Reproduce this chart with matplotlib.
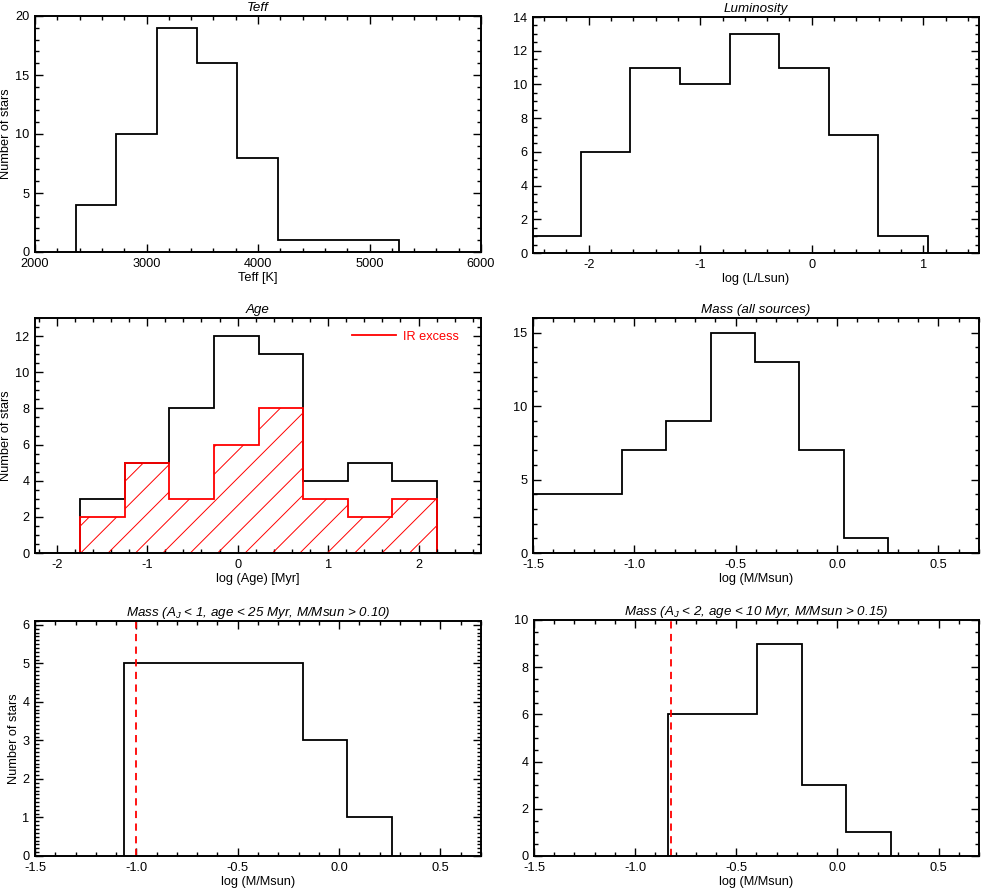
import matplotlib.pyplot as plt
from matplotlib.ticker import MultipleLocator, FormatStrFormatter
from matplotlib.collections import LineCollection

plt.rcParams['font.family'] = ['Liberation Sans', 'DejaVu Sans']
plt.rcParams['font.size'] = 9.2
plt.rcParams['axes.unicode_minus'] = False
plt.rcParams['mathtext.fontset'] = 'custom'
plt.rcParams['mathtext.rm'] = 'Liberation Sans'
plt.rcParams['mathtext.it'] = 'Liberation Sans:italic'

# --- data ---
teff_edges = [2368, 2730, 3092, 3454, 3816, 4178, 4540, 4902, 5264]
teff_counts = [4, 10, 19, 16, 8, 1, 1, 1]

lum_edges = [-2.517, -2.072, -1.627, -1.182, -0.737, -0.292, 0.153, 0.598, 1.043]
lum_counts = [1, 6, 11, 10, 13, 11, 7, 1]

age_edges = [-1.742, -1.249, -0.756, -0.262, 0.231, 0.724, 1.217, 1.710, 2.203]
age_counts = [3, 5, 8, 12, 11, 4, 5, 4]
age_ir_counts = [2, 5, 3, 6, 8, 3, 2, 3]

mass_edges = [-1.500, -1.281, -1.062, -0.843, -0.624, -0.405, -0.186, 0.033, 0.252]
mass_counts = [4, 4, 7, 9, 15, 13, 7, 1]

mass1_edges = [-1.059, -0.839, -0.619, -0.399, -0.179, 0.041, 0.261]
mass1_counts = [5, 5, 5, 5, 3, 1]
mass1_cut = -1.0     # log(0.10)

mass2_edges = [-0.838, -0.618, -0.398, -0.177, 0.043, 0.264]
mass2_counts = [6, 6, 9, 3, 1]
mass2_cut = -0.824   # log(0.15)

W, H = 981, 893
fig = plt.figure(figsize=(W / 100, H / 100), dpi=100)


def make_axes(left, right, top, bottom):
    return fig.add_axes([left / W, 1 - bottom / H, (right - left) / W, (bottom - top) / H])


def style(ax, xlim, ylim, xmaj, xmin, ymaj, ymin, xlabel, title, ylabel=None, xfmt=None):
    ax.set_xlim(*xlim)
    ax.set_ylim(*ylim)
    ax.xaxis.set_major_locator(MultipleLocator(xmaj))
    ax.xaxis.set_minor_locator(MultipleLocator(xmin))
    ax.yaxis.set_major_locator(MultipleLocator(ymaj))
    ax.yaxis.set_minor_locator(MultipleLocator(ymin))
    if xfmt:
        ax.xaxis.set_major_formatter(FormatStrFormatter(xfmt))
    ax.tick_params(which='both', direction='in', top=True, right=True, width=1.0)
    ax.tick_params(which='major', length=5.5, pad=4)
    ax.tick_params(which='minor', length=3)
    for s in ax.spines.values():
        s.set_linewidth(1.4)
    ax.set_xlabel(xlabel, labelpad=1.5)
    if ylabel:
        ax.set_ylabel(ylabel, labelpad=2)
    ax.set_title(title, fontsize=9.6, fontstyle='italic', pad=3.5)


# Teff
ax1 = make_axes(35, 481, 16, 252)
ax1.stairs(teff_counts, teff_edges, color='k', lw=1.3)
style(ax1, (2000, 6000), (0, 20), 1000, 200, 5, 1, 'Teff [K]', 'Teff', 'Number of stars')

# Luminosity
ax2 = make_axes(533, 979, 17, 253)
ax2.stairs(lum_counts, lum_edges, color='k', lw=1.3)
style(ax2, (-2.5, 1.5), (0, 14), 1, 0.2, 2, 0.5, 'log (L/Lsun)', 'Luminosity')

# Age
ax3 = make_axes(35, 481, 318, 553)
ax3.stairs(age_counts, age_edges, color='k', lw=1.3)
red_patch = ax3.stairs(age_ir_counts, age_edges, color='red', lw=1.3, label='IR excess')
style(ax3, (-2.24, 2.69), (0, 13), 1, 0.2, 2, 0.5, 'log (Age) [Myr]', 'Age', 'Number of stars')

# hatching: 45 degree lines (in pixels) clipped to the IR-excess histogram
bw, bh = 446.0, 235.0
segs = []
for k in range(-12, 20):
    x0 = 18.3 + 27.4 * k
    segs.append([(x0 / bw, 0), ((x0 + bh) / bw, 1)])
hatch = LineCollection(segs, colors='red', linewidths=0.7, transform=ax3.transAxes)
ax3.add_collection(hatch)
hatch.set_clip_path(red_patch)

ax3.legend(loc='upper right', bbox_to_anchor=(0.951, 0.945), frameon=False,
           borderpad=0, borderaxespad=0, handlelength=3.4, handletextpad=0.6,
           labelcolor='red')

# Mass (all sources)
ax4 = make_axes(533, 979, 318, 553)
ax4.stairs(mass_counts, mass_edges, color='k', lw=1.3)
style(ax4, (-1.5, 0.7), (0, 16), 0.5, 0.1, 5, 1, 'log (M/Msun)', 'Mass (all sources)', xfmt='%.1f')

# Mass subset 1
ax5 = make_axes(35, 481, 621, 856)
ax5.stairs(mass1_counts, mass1_edges, color='k', lw=1.3)
ax5.axvline(mass1_cut, color='red', lw=1.3, ls=(0, (4, 3)))
style(ax5, (-1.5, 0.7), (0, 6.1), 0.5, 0.1, 1, 0.1, 'log (M/Msun)',
      r'Mass ($A_J$ < 1, age < 25 Myr, M/Msun > 0.10)', 'Number of stars', xfmt='%.1f')

# Mass subset 2
ax6 = make_axes(534, 979, 620, 856)
ax6.stairs(mass2_counts, mass2_edges, color='k', lw=1.3)
ax6.axvline(mass2_cut, color='red', lw=1.3, ls=(0, (4, 3)))
style(ax6, (-1.5, 0.7), (0, 10), 0.5, 0.1, 2, 0.5, 'log (M/Msun)',
      r'Mass ($A_J$ < 2, age < 10 Myr, M/Msun > 0.15)', xfmt='%.1f')

fig.savefig('out.png', dpi=100)
